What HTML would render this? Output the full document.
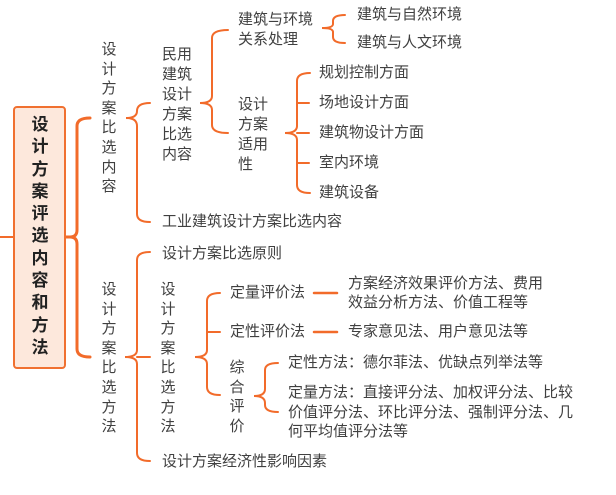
<!DOCTYPE html>
<html><head><meta charset="utf-8"><style>
body{margin:0;width:616px;height:495px;background:#fff;position:relative;overflow:hidden;font-family:"Liberation Sans","Noto Sans CJK SC",sans-serif;color:#404040;font-size:15px}
.t{position:absolute;line-height:20px;white-space:nowrap}
.v{position:absolute;line-height:19.6px;width:16px;text-align:center}
svg{position:absolute;left:0;top:0}
</style></head><body>
<svg width="616" height="495" fill="none" stroke="#f26b2a" stroke-width="2" stroke-linecap="round">
<line x1="0" y1="237" x2="13" y2="237"/>
<path d="M66 237 L72 237" stroke-width="3"/>
<path d="M90 118 Q77 118 77 126 L77 230 Q77 237 70 237 Q77 237 77 244 L77 349 Q77 357 90 357" stroke-width="3"/>
<!-- top content bracket -->
<path d="M150 103 Q137 103 137 111 L137 111 Q137 118 126 118 Q137 118 137 126 L137 214 Q137 222 150 222"/>
<!-- 民用 bracket -->
<path d="M228 30 Q212 30 212 38 L212 96 Q212 103 200 103 Q212 103 212 110 L212 125 Q212 133 228 133"/>
<!-- 建筑与环境 bracket -->
<path d="M345 15 Q333 15 333 21 L333 24 Q333 28 322 28 Q333 28 333 32 L333 37 Q333 43 345 43"/>
<!-- 适用性 bracket -->
<path d="M310 73 Q297 73 297 81 L297 126 Q297 133 285 133 Q297 133 297 140 L297 185 Q297 193 310 193"/>
<line x1="297" y1="103" x2="309" y2="103"/><line x1="297" y1="133" x2="309" y2="133"/><line x1="297" y1="163" x2="309" y2="163"/>
<!-- bottom methods bracket -->
<path d="M150 252 Q137 252 137 260 L137 350 Q137 357 125 357 Q137 357 137 364 L137 453 Q137 461 150 461"/>
<line x1="137" y1="357" x2="150" y2="357"/>
<!-- 比选方法 bracket -->
<path d="M220 293 Q207 293 207 301 L207 350 Q207 357 195 357 Q207 357 207 364 L207 387 Q207 395 220 395"/>
<line x1="207" y1="332" x2="220" y2="332"/>
<line x1="314" y1="293" x2="337" y2="293" stroke-width="2.5"/>
<line x1="314" y1="332" x2="337" y2="332" stroke-width="2.5"/>
<!-- 综合评价 bracket -->
<path d="M278 363 Q265 363 265 370 L265 389 Q265 396 254 396 Q265 396 265 403 L265 405 Q265 412 278 412"/>
</svg>
<div style="position:absolute;left:13px;top:106px;width:49px;height:259px;border:2px solid #f07030;border-radius:4px;background:#fde8dc"></div>
<div class="v" style="left:30px;top:114px;width:20px;line-height:22.3px;font-weight:bold;font-size:17px;color:#222">设<br>计<br>方<br>案<br>评<br>选<br>内<br>容<br>和<br>方<br>法</div>
<div class="v" style="left:101px;top:40px">设<br>计<br>方<br>案<br>比<br>选<br>内<br>容</div>
<div class="t" style="left:162px;top:45px;line-height:20px">民用<br>建筑<br>设计<br>方案<br>比选<br>内容</div>
<div class="t" style="left:162px;top:212px">工业建筑设计方案比选内容</div>
<div class="t" style="left:238px;top:10px">建筑与环境<br>关系处理</div>
<div class="t" style="left:238px;top:95px">设计<br>方案<br>适用<br>性</div>
<div class="t" style="left:357px;top:5px">建筑与自然环境</div>
<div class="t" style="left:357px;top:33px">建筑与人文环境</div>
<div class="t" style="left:319px;top:63px">规划控制方面</div>
<div class="t" style="left:319px;top:93px">场地设计方面</div>
<div class="t" style="left:319px;top:123px">建筑物设计方面</div>
<div class="t" style="left:319px;top:153px">室内环境</div>
<div class="t" style="left:319px;top:183px">建筑设备</div>
<div class="v" style="left:101px;top:280px">设<br>计<br>方<br>案<br>比<br>选<br>方<br>法</div>
<div class="t" style="left:162px;top:244px">设计方案比选原则</div>
<div class="v" style="left:160px;top:280px">设<br>计<br>方<br>案<br>比<br>选<br>方<br>法</div>
<div class="t" style="left:162px;top:452px">设计方案经济性影响因素</div>
<div class="t" style="left:230px;top:283px">定量评价法</div>
<div class="t" style="left:230px;top:322px">定性评价法</div>
<div class="v" style="left:229px;top:358px">综<br>合<br>评<br>价</div>
<div class="t" style="left:348px;top:274px;line-height:19px">方案经济效果评价方法、费用<br>效益分析方法、价值工程等</div>
<div class="t" style="left:348px;top:322px">专家意见法、用户意见法等</div>
<div class="t" style="left:288px;top:353px">定性方法：德尔菲法、优缺点列举法等</div>
<div class="t" style="left:288px;top:383px;line-height:19.5px">定量方法：直接评分法、加权评分法、比较<br>价值评分法、环比评分法、强制评分法、几<br>何平均值评分法等</div>
</body></html>
